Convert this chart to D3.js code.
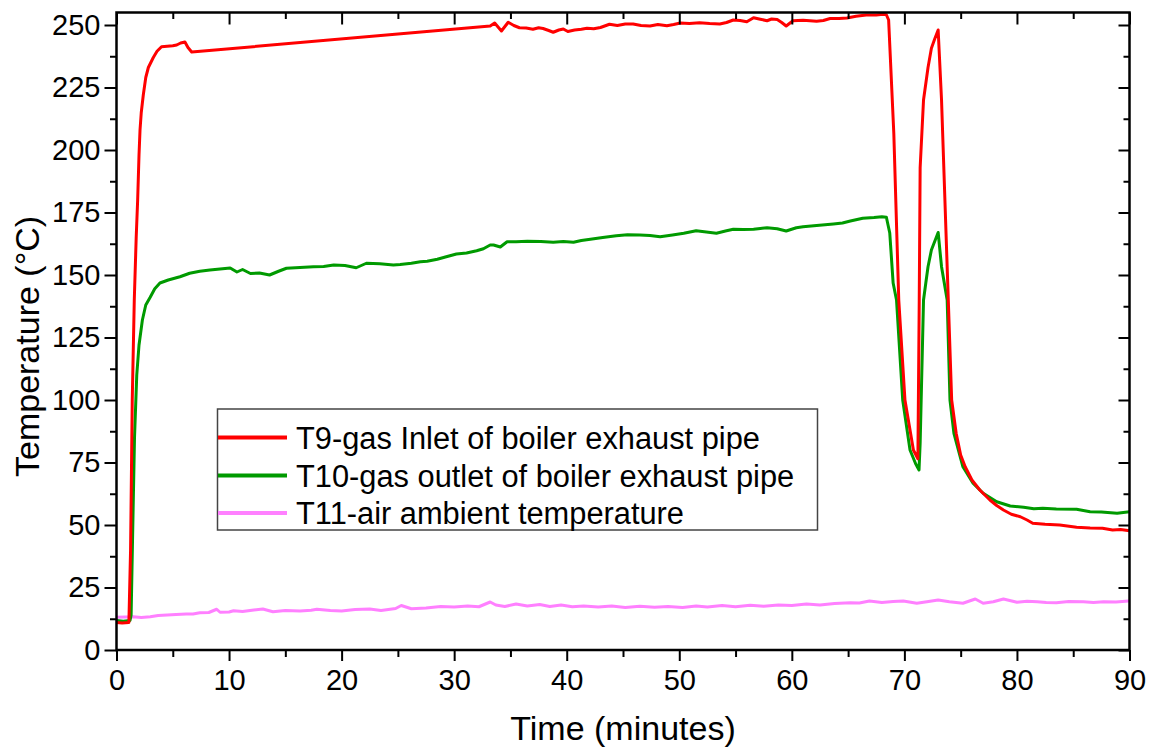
<!DOCTYPE html>
<html>
<head>
<meta charset="utf-8">
<script src="https://cdn.jsdelivr.net/npm/d3@7"></script>
<style>
  html, body { margin: 0; padding: 0; background: #fff; }
  svg { display: block; font-family: "Liberation Sans", Arial, sans-serif; }
</style>
</head>
<body>
<svg id="chart" width="1153" height="751"></svg>
<script>
// Exhaust-pipe temperatures over a 90 minute boiler run: [minutes, °C]
const t9Inlet = [
  [0,11],[0.5,10.8],[1.1,11],[1.25,40],[1.4,100],[1.58,140],[1.75,165],[1.88,180],[2.0,198],[2.09,208],
  [2.2,215],[2.38,222],[2.6,229],[2.83,233],[3.05,235],[3.27,237],[3.6,239.5],[4.0,241.3],[4.5,241.5],
  [5.0,241.7],[5.35,242],[5.7,242.8],[6.08,243.2],[6.35,241],[6.68,239.2],[33.2,249.6],[33.6,250.8],
  [34.2,247.6],[34.8,251.1],[35.3,249.8],[35.8,248.9],[36.4,248.8],[37.0,248.3],[37.5,248.9],[37.9,248.6],
  [38.4,247.8],[38.8,247.1],[39.3,248.0],[39.7,248.4],[40.1,247.4],[40.7,248.0],[41.3,248.3],[41.8,248.7],
  [42.4,248.5],[43.0,249.0],[43.8,250.3],[44.5,249.8],[45.2,250.4],[45.9,250.4],[46.6,249.8],[47.4,249.6],
  [48.1,250.2],[48.9,249.7],[49.5,250.2],[50.1,250.8],[50.9,250.6],[51.8,250.9],[52.7,250.6],[53.6,250.4],
  [54.2,251.0],[54.8,252.0],[55.4,251.8],[56.0,251.3],[56.6,252.9],[57.2,252.3],[57.8,251.7],[58.2,252.4],
  [58.7,252.2],[59.1,251.0],[59.5,249.6],[60.1,251.7],[61.0,251.9],[62.2,251.5],[62.8,251.8],[63.4,252.6],
  [64.2,252.6],[64.9,252.8],[65.7,253.5],[66.6,254],[67.5,254],[68.1,254.3],[68.4,254.1],[68.6,252],
  [69.06,206.7],[69.5,140],[70.05,100],[70.8,80],[71.2,76.5],[71.32,140],[71.4,193],[71.7,220],[72.1,233],
  [72.4,240.7],[72.7,244.5],[73.0,248],[73.3,220],[73.9,140],[74.2,100],[74.6,86.7],[75.0,78],[75.4,73.3],
  [76.0,68],[76.7,64],[77.6,60],[78.2,57.8],[78.8,56],[79.5,54.3],[80.3,53.3],[80.9,52],[81.4,50.7],
  [82.5,50.3],[83.8,50],[85.3,49.1],[86.5,48.8],[87.6,48.7],[88.5,48],[89.2,48.2],[90,47.7]
];

const t10Outlet = [
  [0,11.8],[0.6,11.5],[1.2,11.8],[1.3,14],[1.45,50],[1.6,85],[1.8,110],[2.0,122],[2.3,132],[2.6,138],
  [2.98,141],[3.4,144.5],[3.86,146.8],[4.6,148],[5.64,149.3],[6.5,150.7],[7.4,151.5],[8.3,152],[9.2,152.4],
  [10.1,152.8],[10.7,151.2],[11.2,152.2],[11.9,150.6],[12.7,150.8],[13.6,150],[14.4,151.5],[15.1,152.7],
  [16.3,153],[17.5,153.3],[18.4,153.4],[19.3,154],[20.3,153.8],[21.3,152.9],[22.2,154.7],[23.4,154.5],
  [24.6,154],[25.2,154.2],[26.2,154.7],[27.0,155.3],[27.6,155.5],[28.5,156.3],[29.3,157.3],[30.2,158.4],
  [31.1,158.8],[32.0,159.7],[32.6,160.5],[33.2,162],[33.5,162],[34.1,161.2],[34.7,163.3],[35.5,163.3],
  [36.5,163.5],[37.7,163.4],[38.8,163.1],[39.7,163.4],[40.6,163.1],[41.3,163.8],[42.1,164.3],[43.2,165],
  [44.4,165.7],[45.4,166.1],[46.5,166],[47.4,165.8],[48.3,165.3],[49.4,166],[50.4,166.7],[51.5,167.7],
  [52.4,167.2],[53.3,166.7],[54.1,167.6],[54.8,168.3],[55.7,168.2],[56.6,168.3],[57.2,168.6],[57.8,168.9],
  [58.7,168.5],[59.5,167.6],[60.4,168.9],[61.0,169.3],[62.2,169.8],[63.7,170.4],[64.5,170.8],[65.2,171.6],
  [66.3,172.7],[67.3,173],[68.0,173.3],[68.4,173.1],[68.7,166.8],[69.0,146.8],[69.3,140],[69.85,100],
  [70.5,80],[71.0,74.5],[71.3,72],[71.4,82.7],[71.7,140],[71.9,146.7],[72.1,153.3],[72.4,160],[72.7,163.5],
  [73.0,167],[73.3,153.3],[73.8,140],[74.05,100],[74.4,86.7],[75.2,73.3],[76.1,66.7],[77.0,62.7],
  [78.2,59.3],[79.4,57.6],[80.6,57.1],[81.5,56.5],[82.3,56.7],[83.5,56.4],[85.3,56.3],[86.5,55.3],
  [87.5,55.2],[88.9,54.7],[90,55.3]
];

const t11Ambient = [
  [0,13.1],[0.8,13.2],[1.5,13.3],[2.2,13.0],[3.0,13.3],[3.7,13.8],[4.5,14],[5.3,14.2],[6.2,14.4],[6.8,14.4],
  [7.4,14.9],[8.2,15.0],[8.9,16.3],[9.2,15.1],[10.0,15.2],[10.4,15.7],[11.2,15.4],[12.2,16],[13.0,16.4],
  [13.9,15.3],[15.0,15.8],[16.3,15.6],[17.3,15.9],[17.8,16.3],[19.0,15.8],[20.0,15.6],[21.2,16.2],[22.5,16.4],
  [23.5,15.8],[24.8,16.6],[25.3,17.8],[26.2,16.5],[27.5,16.8],[28.8,17.4],[30.0,17.2],[31.2,17.6],[32.2,17.3],
  [33.2,19.2],[33.7,18],[34.5,17.4],[35.5,18.4],[36.5,17.6],[37.6,18.2],[38.5,17.4],[39.5,18.0],[40.5,17.3],
  [41.5,17.6],[42.8,17.2],[44.0,17.6],[45.2,17.0],[46.5,17.5],[47.8,17.1],[49.0,17.4],[50.3,17.0],[51.5,17.6],
  [52.5,17.2],[53.8,17.8],[55.0,17.3],[56.3,17.9],[57.5,17.5],[58.8,18.0],[60.0,17.8],[61.3,18.4],[62.5,18.0],
  [63.8,18.6],[65.2,18.9],[66.0,18.8],[66.9,19.6],[68.0,19.0],[69.0,19.4],[69.9,19.6],[71.1,18.7],[72.0,19.3],
  [73.0,20],[74.0,19.3],[75.2,18.7],[76.3,20.4],[77.0,18.7],[77.9,19.3],[78.8,20.4],[80.0,19.1],[80.9,19.5],
  [81.8,19.3],[82.6,19.0],[83.5,18.9],[84.6,19.4],[85.9,19.3],[86.8,19.0],[87.7,19.3],[88.8,19.2],[89.9,19.6]
];

const seriesNames = [
  "T9-gas Inlet of boiler exhaust pipe",
  "T10-gas outlet of boiler exhaust pipe",
  "T11-air ambient temperature"
];
const seriesColors = ["#ff0000", "#009a00", "#ff80ff"];

const xMajorTicks = [0, 10, 20, 30, 40, 50, 60, 70, 80, 90];
const xMinorTicks = [5, 15, 25, 35, 45, 55, 65, 75, 85];
const yMajorTicks = [0, 25, 50, 75, 100, 125, 150, 175, 200, 225, 250];
const yMinorTicks = [12.5, 37.5, 62.5, 87.5, 112.5, 137.5, 162.5, 187.5, 212.5, 237.5];

const xTitle = "Time (minutes)";
const yTitle = "Temperature (°C)";

// ---- layout ----
const svg = d3.select("#chart");
const plotLeft = 116.5, plotRight = 1129.5, plotTop = 12.5, plotBottom = 650;

const x = d3.scaleLinear().domain([0, 90]).range([plotLeft, plotRight]);
const y = d3.scaleLinear().domain([0, 255]).range([plotBottom, plotTop]);

svg.append("rect").attr("width", 1153).attr("height", 751).attr("fill", "#fff");

// ---- data lines (drawn in reverse so the inlet curve sits on top) ----
const line = d3.line().x(d => x(d[0])).y(d => y(d[1])).curve(d3.curveLinear);
const allSeries = [t9Inlet, t10Outlet, t11Ambient];

svg.append("defs").append("clipPath").attr("id", "plot-clip")
  .append("rect").attr("x", plotLeft).attr("y", plotTop)
  .attr("width", plotRight - plotLeft).attr("height", plotBottom - plotTop);

const plot = svg.append("g").attr("clip-path", "url(#plot-clip)");
[2, 1, 0].forEach(i => {
  plot.append("path")
    .datum(allSeries[i])
    .attr("d", line)
    .attr("fill", "none")
    .attr("stroke", seriesColors[i])
    .attr("stroke-width", 3)
    .attr("stroke-linejoin", "round")
    .attr("stroke-linecap", "round");
});

// ---- axes ----
const tickFont = 29;
function styleAxis(g) {
  g.select(".domain").remove();
  g.selectAll(".tick line").attr("stroke", "#000").attr("stroke-width", 2);
  g.selectAll(".tick text").attr("fill", "#000").style("font-size", tickFont + "px")
    .style("font-family", '"Liberation Sans", Arial, sans-serif');
}

// bottom: outward ticks with labels
svg.append("g").attr("transform", `translate(0,${plotBottom})`)
  .call(d3.axisBottom(x).tickValues(xMajorTicks).tickSize(11).tickPadding(8).tickFormat(d3.format("d")))
  .call(styleAxis);
svg.append("g").attr("transform", `translate(0,${plotBottom})`)
  .call(d3.axisBottom(x).tickValues(xMinorTicks).tickSize(7).tickFormat(""))
  .call(styleAxis);

// top: inward ticks, no labels
svg.append("g").attr("transform", `translate(0,${plotTop})`)
  .call(d3.axisBottom(x).tickValues(xMajorTicks).tickSize(12).tickFormat(""))
  .call(styleAxis);
svg.append("g").attr("transform", `translate(0,${plotTop})`)
  .call(d3.axisBottom(x).tickValues(xMinorTicks).tickSize(6.5).tickFormat(""))
  .call(styleAxis);

// left: outward ticks with labels
svg.append("g").attr("transform", `translate(${plotLeft},0)`)
  .call(d3.axisLeft(y).tickValues(yMajorTicks).tickSize(12).tickPadding(4).tickFormat(d3.format("d")))
  .call(styleAxis);
svg.append("g").attr("transform", `translate(${plotLeft},0)`)
  .call(d3.axisLeft(y).tickValues(yMinorTicks).tickSize(6.5).tickFormat(""))
  .call(styleAxis);

// right: inward ticks, no labels
svg.append("g").attr("transform", `translate(${plotRight},0)`)
  .call(d3.axisLeft(y).tickValues(yMajorTicks).tickSize(11).tickFormat(""))
  .call(styleAxis);
svg.append("g").attr("transform", `translate(${plotRight},0)`)
  .call(d3.axisLeft(y).tickValues(yMinorTicks).tickSize(6).tickFormat(""))
  .call(styleAxis);

// frame
svg.append("rect")
  .attr("x", plotLeft).attr("y", plotTop)
  .attr("width", plotRight - plotLeft).attr("height", plotBottom - plotTop)
  .attr("fill", "none").attr("stroke", "#000").attr("stroke-width", 2.5);

// ---- axis titles ----
svg.append("text")
  .attr("x", (plotLeft + plotRight) / 2).attr("y", 740)
  .attr("text-anchor", "middle")
  .style("font-size", "34px").attr("fill", "#000")
  .text(xTitle);

svg.append("text")
  .attr("transform", "translate(39,477) rotate(-90)")
  .attr("text-anchor", "start")
  .style("font-size", "34px").attr("fill", "#000")
  .text(yTitle);

// ---- legend ----
const legend = svg.append("g");
legend.append("rect")
  .attr("x", 217.5).attr("y", 409).attr("width", 600).attr("height", 121)
  .attr("fill", "#fff").attr("stroke", "#444").attr("stroke-width", 1.5);

const legendRows = [437.5, 475.5, 513];
const legendFont = 30.8;
seriesNames.forEach((name, i) => {
  legend.append("line")
    .attr("x1", 218).attr("x2", 287)
    .attr("y1", legendRows[i]).attr("y2", legendRows[i])
    .attr("stroke", seriesColors[i]).attr("stroke-width", 4);
  legend.append("text")
    .attr("x", 296).attr("y", legendRows[i] + legendFont * 0.358)
    .style("font-size", legendFont + "px").attr("fill", "#000")
    .text(name);
});
</script>
</body>
</html>
